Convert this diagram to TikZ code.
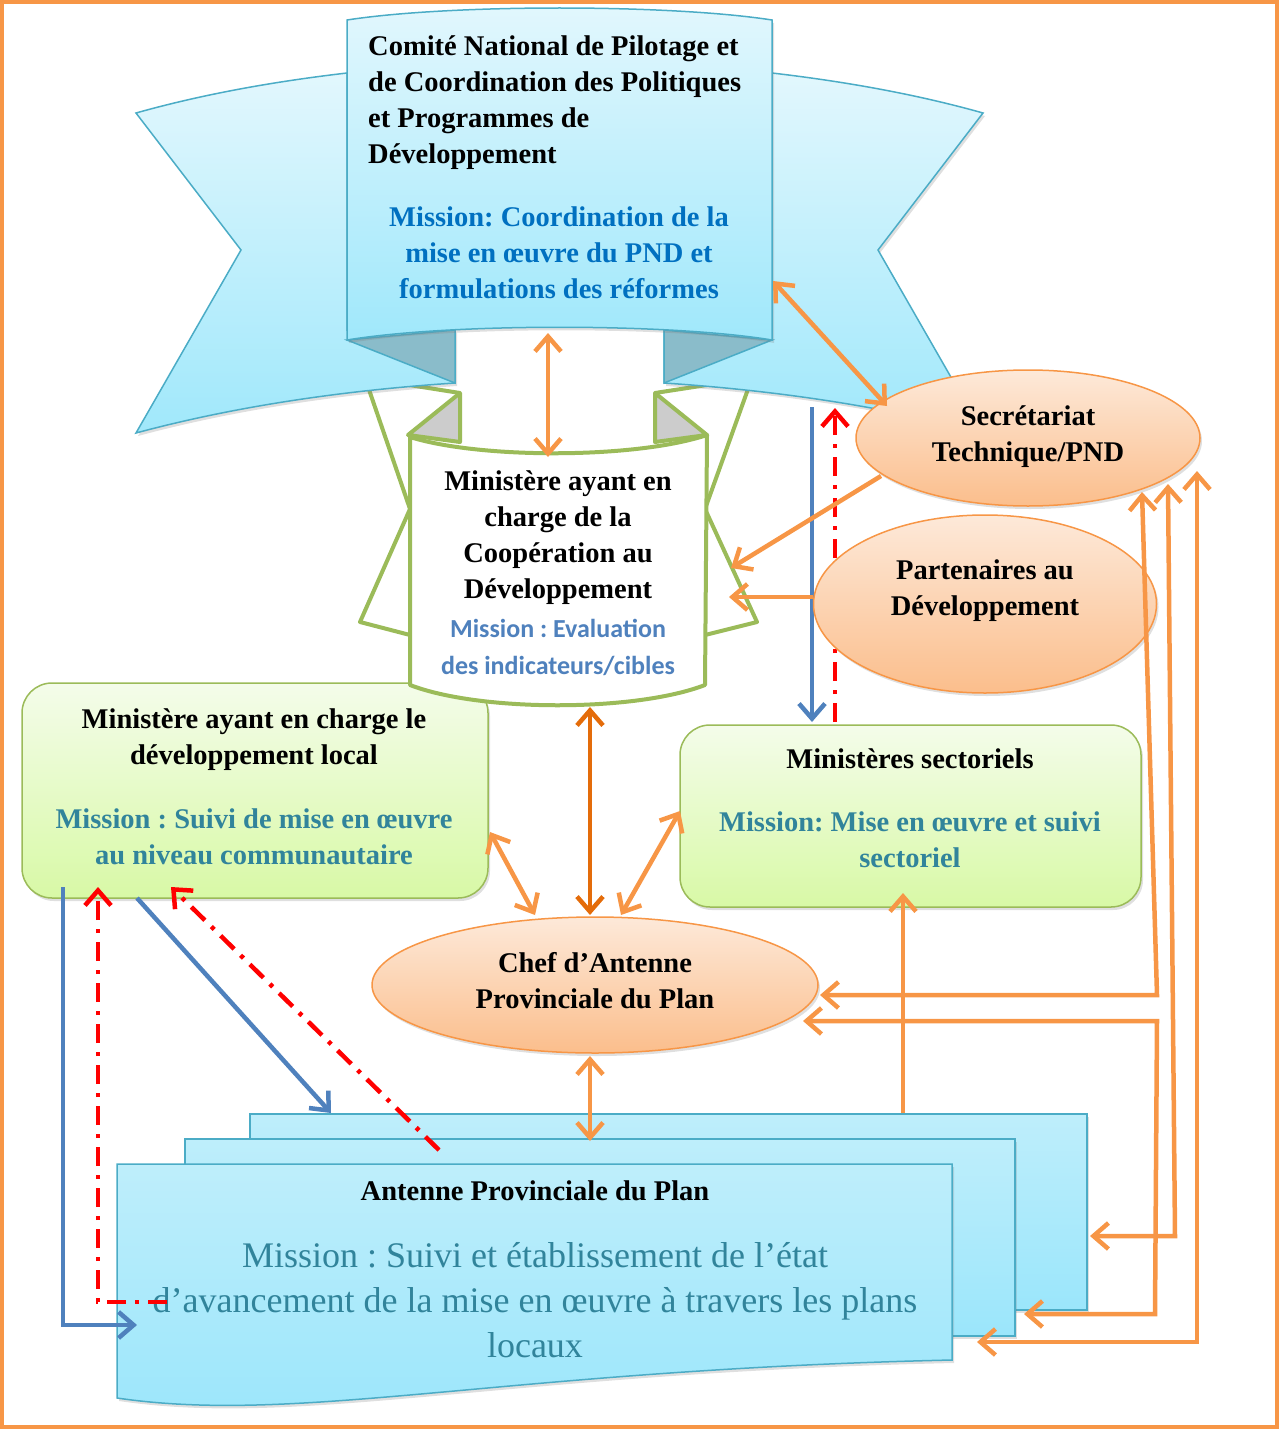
\documentclass[tikz,border=0pt]{standalone}
\usepackage{fontspec}
\setmainfont{Liberation Serif}
\newfontfamily\sansMission{Carlito}
\usetikzlibrary{positioning,shapes.geometric,arrows.meta,shadows}
\definecolor{frameOrange}{RGB}{247,150,70}
\definecolor{darkOrange}{RGB}{228,108,10}
\definecolor{ribbonLine}{RGB}{75,172,198}
\definecolor{ribbonTop}{RGB}{226,247,253}
\definecolor{ribbonBottom}{RGB}{160,232,251}
\definecolor{foldBlue}{RGB}{138,188,202}
\definecolor{leafGreen}{RGB}{155,187,89}
\definecolor{foldGrey}{RGB}{204,204,204}
\definecolor{boxTop}{RGB}{244,252,234}
\definecolor{boxBottom}{RGB}{216,249,166}
\definecolor{ovalTop}{RGB}{253,233,217}
\definecolor{ovalBottom}{RGB}{251,190,140}
\definecolor{stackTop}{RGB}{190,238,251}
\definecolor{stackBottom}{RGB}{155,230,251}
\definecolor{missionBlue}{RGB}{0,112,192}
\definecolor{missionSky}{RGB}{79,129,189}
\definecolor{missionTeal}{RGB}{49,132,155}
\definecolor{linkBlue}{RGB}{79,129,189}
\newcommand{\titleFont}{\fontsize{28.5}{36}\selectfont\bfseries}
\newcommand{\sansFont}{\sansMission\fontsize{26}{37}\selectfont\bfseries}
\newcommand{\bigFont}{\fontsize{36}{45}\selectfont}
\tikzstyle{softShadow} = [drop shadow={opacity=0.25, shadow xshift=2pt, shadow yshift=-3pt}]
\tikzstyle{frameStyle} = [draw=frameOrange, line width=4pt]
\tikzstyle{blueRibbon} = [draw=ribbonLine, line width=1.5pt, top color=ribbonTop, bottom color=ribbonBottom, softShadow]
\tikzstyle{blueFold} = [draw=ribbonLine, line width=1.5pt, fill=foldBlue]
\tikzstyle{greenRibbon} = [draw=leafGreen, line width=4pt, fill=white, line join=round]
\tikzstyle{greenFold} = [draw=leafGreen, line width=4pt, fill=foldGrey, line join=round]
\tikzstyle{greenBox} = [draw=leafGreen, line width=1.5pt, rounded corners=30pt, top color=boxTop, bottom color=boxBottom, softShadow]
\tikzstyle{orangeOval} = [ellipse, draw=frameOrange, line width=1.5pt, top color=ovalTop, bottom color=ovalBottom, softShadow, inner sep=0pt]
\tikzstyle{stackSheet} = [draw=ribbonLine, line width=1.5pt, top color=stackTop, bottom color=stackBottom, softShadow]
\tikzstyle{titleText} = [font=\titleFont, align=center, inner sep=0pt]
\tikzstyle{orangeLink} = [draw=frameOrange, line width=4.5pt]
\tikzstyle{darkLink} = [draw=darkOrange, line width=4.5pt]
\tikzstyle{blueLink} = [draw=linkBlue, line width=4.5pt]
\tikzstyle{redLink} = [draw=red, line width=4.5pt, dash pattern=on 19pt off 9pt on 4pt off 9pt]

\begin{document}
\frenchspacing
\begin{tikzpicture}[x=1pt, y=-1pt, >={Straight Barb[length=15pt,width=26pt]}]
  \useasboundingbox (0,0) rectangle (1279,1429);
  \draw[frameStyle] (2,2) rectangle (1277,1427);

  \node[greenBox, minimum width=466pt, minimum height=215pt] (devLocal) at (255,790.5) {};

  % ruban vert
  \path[greenRibbon] (460,393) -- (365,378) -- (410,509) -- (360,622) -- (410,635);
  \path[greenRibbon] (655,393) -- (752,378) -- (705,509) -- (757,622) -- (705,635);
  \path[greenFold] (408,435) -- (460,393) -- (460,442) -- cycle;
  \path[greenFold] (707,435) -- (655,393) -- (655,442) -- cycle;
  \path[greenRibbon] (410,437) .. controls (480,459) and (635,459) .. (707,435)
    -- (705,685) .. controls (635,712) and (480,712) .. (410,685) -- cycle;

  % ruban bleu
  \path[blueRibbon] (347,73) .. controls (270,82) and (200,95) .. (136,113) -- (241,250) -- (136,433)
    .. controls (240,405) and (350,390) .. (455,383) -- (455,330) -- (347,330) -- cycle;
  \path[blueRibbon] (772,73) .. controls (849,82) and (919,95) .. (983,113) -- (878,250) -- (983,433)
    .. controls (879,405) and (769,390) .. (664,383) -- (664,330) -- (772,330) -- cycle;
  \path[blueFold] (347,340) -- (455,383) -- (455,330) -- cycle;
  \path[blueFold] (772,340) -- (664,383) -- (664,330) -- cycle;
  \path[blueRibbon] (347,20) .. controls (450,4) and (669,4) .. (772,20)
    -- (772,340) .. controls (669,323) and (450,323) .. (347,340) -- cycle;

  \node[greenBox, minimum width=461pt, minimum height=182pt] (sectoriels) at (910.5,816) {};

  \path[stackSheet] (250,1114) rectangle (1087,1310);
  \path[stackSheet] (185,1139) rectangle (1015,1336);
  \path[stackSheet] (117,1164) -- (952,1164) -- (952,1360)
    .. controls (500,1370) and (300,1425) .. (117,1398) -- cycle;

  \coordinate (comiteBottom) at (548,333);
  \coordinate (comiteRight) at (773,281);
  \coordinate (ribbonFoot) at (812,407);
  \coordinate (ribbonFootRed) at (835,408);
  \coordinate (coopTop) at (548,457);
  \coordinate (coopRightA) at (731,568);
  \coordinate (coopRightB) at (729,597);
  \coordinate (coopBottom) at (590,707);
  \coordinate (secrTopLeft) at (887,406);
  \coordinate (secrLeft) at (881,476);
  \coordinate (secrBottomA) at (1142,492);
  \coordinate (secrBottomB) at (1168,484);
  \coordinate (secrBottomC) at (1197,471);
  \coordinate (partLeft) at (813,597);
  \coordinate (sectTopA) at (812,722);
  \coordinate (sectTopB) at (835,722);
  \coordinate (sectLeft) at (680,811);
  \coordinate (sectBottom) at (903,893);
  \coordinate (devRight) at (490,832);
  \coordinate (devBottomA) at (63,887);
  \coordinate (devBottomB) at (137,898);
  \coordinate (devBottomC) at (98,887);
  \coordinate (devBottomD) at (171,887);
  \coordinate (chefTop) at (590,915);
  \coordinate (chefTopLeft) at (535,915);
  \coordinate (chefTopRight) at (621,915);
  \coordinate (chefBottom) at (590,1056);
  \coordinate (chefRightA) at (820,995);
  \coordinate (chefRightD) at (803,1021);
  \coordinate (stackBackTop) at (903,1113);
  \coordinate (stackBackTopLeft) at (331,1113);
  \coordinate (stackMidTop) at (590,1141);
  \coordinate (stackBackRight) at (1090,1236);
  \coordinate (stackMidRight) at (1024,1314);
  \coordinate (stackFrontRight) at (977,1342);
  \coordinate (stackFrontLeft) at (137,1325);
  \coordinate (stackRedStart) at (439,1150);
  \coordinate (redStartA) at (167,1302);
  \coordinate (bendA) at (1157,995);
  \coordinate (bendB) at (1175,1236);
  \coordinate (bendC) at (1197,1342);
  \coordinate (bendD1) at (1157,1021);
  \coordinate (bendD2) at (1155,1314);

  \draw[blueLink, ->] (ribbonFoot) -- (sectTopA);
  \draw[redLink, ->] (sectTopB) -- (ribbonFootRed);

  \node[orangeOval, minimum width=344pt, minimum height=136pt] (secretariat) at (1028,438) {};
  \node[orangeOval, minimum width=343pt, minimum height=178pt] (partenaires) at (985,604) {};
  \node[orangeOval, minimum width=446pt, minimum height=136pt] (chefAntenne) at (595,985) {};

  \node[titleText, anchor=west, align=left] (comiteTitle) at (368,103) {Comité National de Pilotage et\\de Coordination des Politiques\\et Programmes de\\Développement};
  \node[titleText, text=missionBlue] (comiteMission) at (559,253) {Mission: Coordination de la\\mise en œuvre du PND et\\formulations des réformes};
  \node[titleText] (coopTitle) at (558,538) {Ministère ayant en\\charge de la\\Coopération au\\Développement};
  \node[font=\sansFont, text=missionSky, align=center, inner sep=0pt] (coopMission) at (558,647) {Mission : Evaluation\\des indicateurs/cibles};
  \node[titleText] (devTitle) at (254,740) {Ministère ayant en charge le\\développement local};
  \node[titleText, text=missionTeal] (devMission) at (254,837) {Mission : Suivi de mise en œuvre\\au niveau communautaire};
  \node[titleText] (sectTitle) at (910,759) {Ministères sectoriels};
  \node[titleText, text=missionTeal] (sectMission) at (910,840) {Mission: Mise en œuvre et suivi\\sectoriel};
  \node[titleText] (secrText) at (1028,437) {Secrétariat\\Technique/PND};
  \node[titleText] (partText) at (985,591) {Partenaires au\\Développement};
  \node[titleText] (chefText) at (595,981) {Chef d’Antenne\\Provinciale du Plan};
  \node[titleText] (antenneTitle) at (535,1191) {Antenne Provinciale du Plan};
  \node[font=\bigFont, text=missionTeal, align=center, inner sep=0pt] (antenneMission) at (535,1300) {Mission : Suivi et établissement de l’état\\d’avancement de la mise en œuvre à travers les plans\\locaux};

  \draw[orangeLink, <->] (comiteBottom) -- (coopTop);
  \draw[orangeLink, <->] (comiteRight) -- (secrTopLeft);
  \draw[orangeLink, ->] (secrLeft) -- (coopRightA);
  \draw[orangeLink, ->] (partLeft) -- (coopRightB);
  \draw[darkLink, <->] (coopBottom) -- (chefTop);
  \draw[orangeLink, <->] (devRight) -- (chefTopLeft);
  \draw[orangeLink, <->] (chefTopRight) -- (sectLeft);
  \draw[orangeLink, <->] (chefBottom) -- (stackMidTop);
  \draw[orangeLink, ->] (stackBackTop) -- (sectBottom);
  \draw[orangeLink, <->] (secrBottomA) -- (bendA) -- (chefRightA);
  \draw[orangeLink, <->] (secrBottomB) -- (bendB) -- (stackBackRight);
  \draw[orangeLink, <->] (secrBottomC) -- (bendC) -- (stackFrontRight);
  \draw[orangeLink, <->] (chefRightD) -- (bendD1) -- (bendD2) -- (stackMidRight);
  \draw[blueLink, ->] (devBottomA) |- (stackFrontLeft);
  \draw[blueLink, ->] (devBottomB) -- (stackBackTopLeft);
  \draw[redLink, ->] (redStartA) -| (devBottomC);
  \draw[redLink, ->] (stackRedStart) -- (devBottomD);
\end{tikzpicture}
\end{document}
